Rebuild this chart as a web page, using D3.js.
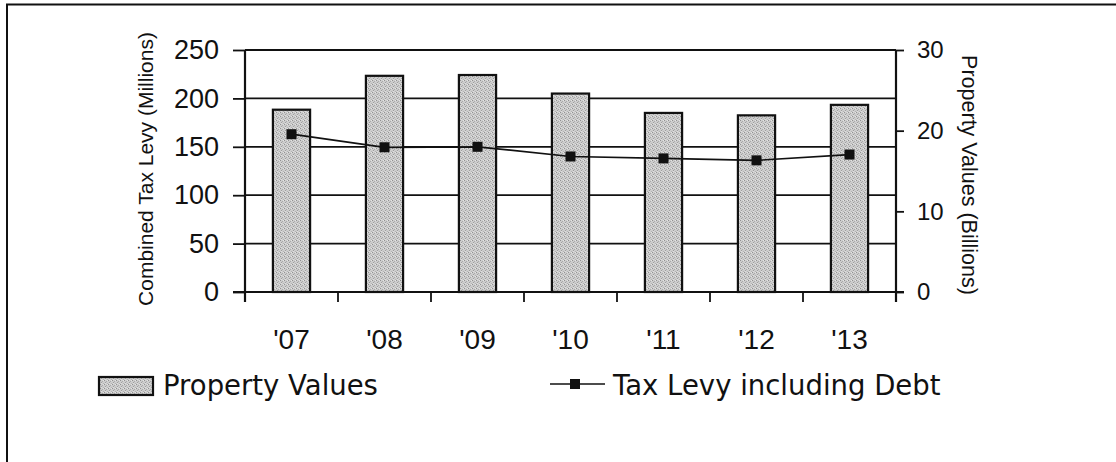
<!DOCTYPE html>
<html>
<head>
<meta charset="utf-8">
<script src="https://cdn.jsdelivr.net/npm/d3@7"></script>
<style>
  html, body { margin: 0; padding: 0; background: #fff; }
  svg { display: block; }
</style>
</head>
<body>
<svg id="chart" width="1116" height="462"></svg>
<script>
// Fiscal years shown along the x axis
const years = ["'07", "'08", "'09", "'10", "'11", "'12", "'13"];
// Property values, billions of dollars (right axis)
const propertyValues = [22.6, 26.8, 26.9, 24.6, 22.2, 21.9, 23.2];
// Combined tax levy including debt, millions of dollars (left axis)
const taxLevy = [163, 149.5, 150, 140, 138, 136, 142];
// Axis tick values
const levyTicks = [0, 50, 100, 150, 200, 250];
const valueTicks = [0, 10, 20, 30];

const svg = d3.select("#chart");
const plotLeft = 245, plotRight = 896, plotTop = 50, plotBottom = 292;
const ink = "#111";

const x = d3.scaleBand().domain(years).range([plotLeft, plotRight])
  .paddingInner(0.6).paddingOuter(0.3);
const yLevy = d3.scaleLinear().domain([0, 250]).range([plotBottom, plotTop]);
const yValue = d3.scaleLinear().domain([0, 30]).range([plotBottom, plotTop]);
const cx = d => x(d) + x.bandwidth() / 2;

// stippled grey fill for the bars
const defs = svg.append("defs");
const pat = defs.append("pattern").attr("id", "stipple")
  .attr("width", 4).attr("height", 4).attr("patternUnits", "userSpaceOnUse");
pat.append("rect").attr("width", 4).attr("height", 4).attr("fill", "#cdcdcd");
[[0,0,"#929292"],[2,1,"#aaaaaa"],[1,2,"#9e9e9e"],[3,3,"#b2b2b2"],[3,0,"#e4e4e4"],[1,3,"#dedede"]]
  .forEach(([px, py, c]) => pat.append("rect").attr("x", px).attr("y", py)
    .attr("width", 1).attr("height", 1).attr("fill", c));

// outer frame (top and left edges)
svg.append("path").attr("d", "M7,462 V4.5 H1116")
  .attr("fill", "none").attr("stroke", ink).attr("stroke-width", 2);

// horizontal gridlines at the levy ticks
svg.append("g").selectAll("line").data(levyTicks.slice(1)).join("line")
  .attr("x1", plotLeft).attr("x2", plotRight)
  .attr("y1", d => yLevy(d)).attr("y2", d => yLevy(d))
  .attr("stroke", ink).attr("stroke-width", 1.8);

// property value bars
svg.append("g").selectAll("rect").data(years).join("rect")
  .attr("x", d => x(d))
  .attr("y", (d, i) => yValue(propertyValues[i]))
  .attr("width", x.bandwidth())
  .attr("height", (d, i) => plotBottom - yValue(propertyValues[i]))
  .attr("fill", "url(#stipple)")
  .attr("stroke", ink).attr("stroke-width", 2.2);

// left axis
const gL = svg.append("g").attr("transform", `translate(${plotLeft},0)`)
  .call(d3.axisLeft(yLevy).tickValues(levyTicks).tickSize(12).tickPadding(14).tickSizeOuter(0));
gL.select(".domain").remove();
gL.selectAll(".tick line").attr("stroke", ink).attr("stroke-width", 1.8);
gL.selectAll(".tick text").attr("font-family", "'Liberation Sans', Arial, sans-serif")
  .attr("font-size", 27).attr("fill", ink);
svg.append("line").attr("x1", plotLeft).attr("x2", plotLeft).attr("y1", plotTop).attr("y2", plotBottom + 10)
  .attr("stroke", ink).attr("stroke-width", 2.2);

// right axis
const gR = svg.append("g").attr("transform", `translate(${plotRight},0)`)
  .call(d3.axisRight(yValue).tickValues(valueTicks).tickSize(8).tickPadding(13).tickSizeOuter(0));
gR.select(".domain").remove();
gR.selectAll(".tick line").attr("stroke", ink).attr("stroke-width", 1.8);
gR.selectAll(".tick text").attr("font-family", "'Liberation Sans', Arial, sans-serif")
  .attr("font-size", 24).attr("fill", ink);
svg.append("line").attr("x1", plotRight).attr("x2", plotRight).attr("y1", plotTop).attr("y2", plotBottom + 10)
  .attr("stroke", ink).attr("stroke-width", 2.2);

// x axis baseline, category boundary ticks and year labels
svg.append("line").attr("x1", plotLeft - 12).attr("x2", plotRight + 8)
  .attr("y1", plotBottom).attr("y2", plotBottom).attr("stroke", ink).attr("stroke-width", 2.2);
svg.append("g").selectAll("line").data(d3.range(years.length + 1)).join("line")
  .attr("x1", i => plotLeft + i * x.step()).attr("x2", i => plotLeft + i * x.step())
  .attr("y1", plotBottom).attr("y2", plotBottom + 10)
  .attr("stroke", ink).attr("stroke-width", 1.8);
svg.append("g").selectAll("text").data(years).join("text")
  .attr("x", cx).attr("y", 349)
  .attr("text-anchor", "middle")
  .attr("font-family", "'Liberation Sans', Arial, sans-serif").attr("font-size", 28)
  .attr("fill", ink).text(d => d);

// tax levy line with square markers
const line = d3.line()
  .x((d, i) => cx(years[i]))
  .y(d => yLevy(d));
svg.append("path").datum(taxLevy).attr("d", line)
  .attr("fill", "none").attr("stroke", ink).attr("stroke-width", 1.7);
svg.append("g").selectAll("rect").data(taxLevy).join("rect")
  .attr("x", (d, i) => cx(years[i]) - 5)
  .attr("y", d => yLevy(d) - 5)
  .attr("width", 10).attr("height", 10).attr("fill", ink);

// axis titles
svg.append("text")
  .attr("transform", "translate(153,169) rotate(-90)")
  .attr("text-anchor", "middle")
  .attr("font-family", "'Liberation Sans', Arial, sans-serif").attr("font-size", 21)
  .attr("fill", ink).text("Combined Tax Levy (Millions)");
svg.append("text")
  .attr("transform", "translate(962,175) rotate(90)")
  .attr("text-anchor", "middle")
  .attr("font-family", "'Liberation Sans', Arial, sans-serif").attr("font-size", 21.5)
  .attr("fill", ink).text("Property Values (Billions)");

// legend
const legendFont = "'DejaVu Sans', Verdana, sans-serif";
svg.append("rect").attr("x", 99).attr("y", 377).attr("width", 54).attr("height", 18)
  .attr("fill", "url(#stipple)").attr("stroke", ink).attr("stroke-width", 2.2);
svg.append("text").attr("x", 163).attr("y", 395)
  .attr("font-family", legendFont).attr("font-size", 27.5).attr("fill", ink)
  .text("Property Values");
svg.append("line").attr("x1", 550).attr("x2", 605).attr("y1", 384).attr("y2", 384)
  .attr("stroke", ink).attr("stroke-width", 1.7);
svg.append("rect").attr("x", 570).attr("y", 379).attr("width", 10).attr("height", 10).attr("fill", ink);
svg.append("text").attr("x", 613).attr("y", 395)
  .attr("font-family", legendFont).attr("font-size", 27.5).attr("fill", ink)
  .text("Tax Levy including Debt");
</script>
</body>
</html>
